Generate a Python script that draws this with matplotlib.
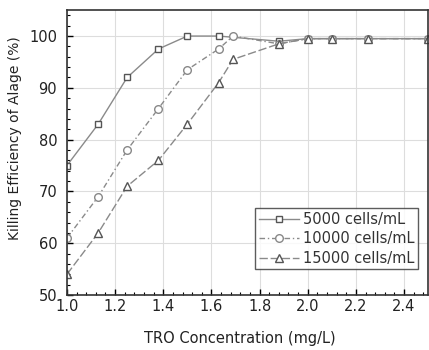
import matplotlib
matplotlib.use("Agg")
import matplotlib.pyplot as plt
from matplotlib.ticker import MultipleLocator

plt.rcParams['font.family'] = ['DejaVu Sans']

x_5000 = [1.0, 1.13, 1.25, 1.38, 1.5, 1.63, 1.88, 2.0, 2.1, 2.25, 2.5]
y_5000 = [75, 83, 92, 97.5, 100, 100, 99, 99.5, 99.5, 99.5, 99.5]
x_10000 = [1.0, 1.13, 1.25, 1.38, 1.5, 1.63, 1.69, 1.88, 2.0, 2.1, 2.25, 2.5]
y_10000 = [61, 69, 78, 86, 93.5, 97.5, 100, 98.5, 99.5, 99.5, 99.5, 99.5]
x_15000 = [1.0, 1.13, 1.25, 1.38, 1.5, 1.63, 1.69, 1.88, 2.0, 2.1, 2.25, 2.5]
y_15000 = [54, 62, 71, 76, 83, 91, 95.5, 98.5, 99.5, 99.5, 99.5, 99.5]
labels = ["5000 cells/mL", "10000 cells/mL", "15000 cells/mL"]

fig = plt.figure(figsize=(4.29, 3.5), dpi=100)
ax = fig.add_axes([0.156, 0.157, 0.842, 0.814])

lc = '#8a8a8a'
mc = '#555555'
ax.plot(x_5000, y_5000, '-', color=lc, lw=1.0, marker='s', ms=5, mfc='white',
        mec=mc, mew=1.0, label=labels[0])
ax.plot(x_10000, y_10000, linestyle=(0, (4, 2, 1, 2)), color=lc, lw=1.0, marker='o',
        ms=5.5, mfc='white', mec='#888888', mew=1.0, label=labels[1])
ax.plot(x_15000, y_15000, linestyle=(0, (6, 2)), color=lc, lw=1.0, marker='^', ms=6,
        mfc='white', mec=mc, mew=1.0, label=labels[2])

ax.set_xlim(1.0, 2.5)
ax.set_ylim(50, 105)
ax.xaxis.set_minor_locator(MultipleLocator(0.04))
ax.yaxis.set_major_locator(MultipleLocator(10))
ax.yaxis.set_minor_locator(MultipleLocator(2))
ax.set_xticks([1.0, 1.2, 1.4, 1.6, 1.8, 2.0, 2.2, 2.4])
ax.set_xticklabels(['1.0', '1.2', '1.4', '1.6', '1.8', '2.0', '2.2', '2.4'])
ax.tick_params(which='both', direction='in', top=False, right=False)
ax.tick_params(which='major', length=4, width=1, labelsize=10.5, labelcolor='#222222')
ax.tick_params(axis='x', which='major', pad=2.5)
ax.tick_params(axis='y', which='major', pad=7)
ax.tick_params(which='minor', length=2, width=0.8)
ax.grid(True, which='major', color='#dddddd', lw=0.8)
for s in ax.spines.values():
    s.set_linewidth(1.2)
    s.set_color('#333333')

ax.set_xlabel('TRO Concentration (mg/L)', fontsize=10.5, labelpad=12, color='#222222')
ax.set_ylabel('Killing Efficiency of Alage (%)', fontsize=10, color='#222222')
ax.xaxis.set_label_coords(0.48, -0.125)
ax.yaxis.set_label_coords(-0.125, 0.55)

leg = ax.legend(loc='lower right', bbox_to_anchor=(0.972, 0.09), fontsize=10.5,
                frameon=True, fancybox=False, edgecolor='#333333',
                handlelength=2.7, handletextpad=0.3, borderpad=0.25,
                labelspacing=0.3, borderaxespad=0)
leg.get_frame().set_linewidth(1.0)
for t in leg.get_texts():
    t.set_color('#333333')

fig.savefig('out.png', dpi=100)
